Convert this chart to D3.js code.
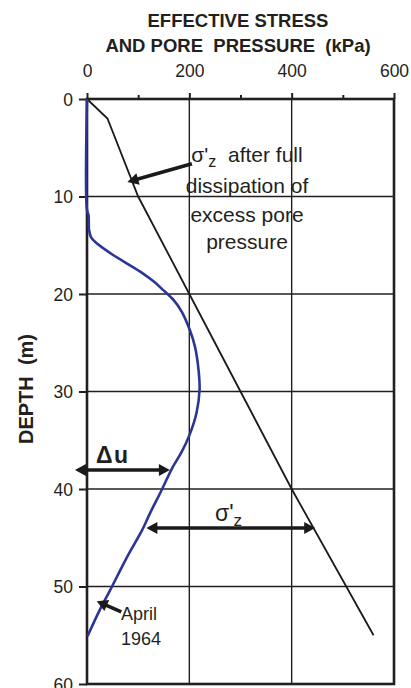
<!DOCTYPE html>
<html>
<head>
<meta charset="utf-8">
<script src="https://cdn.jsdelivr.net/npm/d3@7"></script>
<style>
  html, body { margin: 0; padding: 0; background: #fff; }
  svg { display: block; }
  text { font-family: "Liberation Sans", Arial, sans-serif; fill: #231f20; }
</style>
</head>
<body>
<svg id="chart" width="411" height="688"></svg>
<script>
// ---- data ----
const xTicks = [0, 200, 400, 600];
const xMinorTicks = [100, 300, 500];
const yTicks = [0, 10, 20, 30, 40, 50, 60];
// effective stress after full dissipation: [kPa, depth m]
const sigmaZ = [[0, 0], [40, 2], [100, 10], [200, 20], [300, 30], [400, 40], [560, 55]];
// pore pressure April 1964: [kPa, depth m]
const poreApril1964 = [
  [0, 0], [0, 11.4], [3, 11.9], [4, 13.4], [8, 14.2], [19, 14.8], [51, 16], [104, 17.7],
  [130, 18.7], [149, 19.6], [169, 20.6], [185, 21.8], [201, 23.7], [211, 25.4],
  [218, 27.8], [220, 29.8], [214, 32.2], [200, 34.5], [185, 36.2], [166, 37.9],
  [146, 40.1], [123, 42.5], [108, 44.2], [79, 46.9], [45, 50.4], [25, 52.4], [1, 55.1]
];
const titleLines = ["EFFECTIVE STRESS", "AND PORE  PRESSURE  (kPa)"];
const yTitle = "DEPTH  (m)";

(function () {
const svg = d3.select("#chart");
const x = d3.scaleLinear().domain([0, 600]).range([87, 394]);
const y = d3.scaleLinear().domain([0, 60]).range([99, 684]);

// grid
svg.append("g").selectAll("line").data([200, 400]).join("line")
  .attr("x1", d => x(d)).attr("x2", d => x(d)).attr("y1", y(0)).attr("y2", y(60))
  .attr("stroke", "#231f20").attr("stroke-width", 1.4);
svg.append("g").selectAll("line").data([10, 20, 30, 40, 50]).join("line")
  .attr("x1", x(0)).attr("x2", x(600)).attr("y1", d => y(d)).attr("y2", d => y(d))
  .attr("stroke", "#231f20").attr("stroke-width", 1.4);

// axes
const axTop = svg.append("g").attr("transform", `translate(0,${y(0)})`)
  .call(d3.axisTop(x).tickValues(xTicks).tickSize(6).tickPadding(16).tickFormat(d3.format("d")));
const axTopMinor = svg.append("g").attr("transform", `translate(0,${y(0)})`)
  .call(d3.axisTop(x).tickValues(xMinorTicks).tickSize(4).tickFormat(""));
const axLeft = svg.append("g").attr("transform", `translate(${x(0)},0)`)
  .call(d3.axisLeft(y).tickValues(yTicks).tickSize(8).tickPadding(6).tickFormat(d3.format("d")));
[axTop, axTopMinor, axLeft].forEach(g => {
  g.select(".domain").remove();
  g.selectAll(".tick line").attr("stroke", "#231f20").attr("stroke-width", 2);
  g.selectAll("text").attr("font-size", 17.5).attr("fill", "#231f20")
    .style("font-family", '"Liberation Sans", Arial, sans-serif');
});
axLeft.selectAll("text").attr("dy", "0.36em");

// frame
svg.append("rect").attr("x", x(0)).attr("y", y(0))
  .attr("width", x(600) - x(0)).attr("height", y(60) - y(0))
  .attr("fill", "none").attr("stroke", "#231f20").attr("stroke-width", 2.6);

// titles
svg.append("g").selectAll("text").data(titleLines).join("text")
  .attr("x", 238).attr("y", (d, i) => 27 + i * 24.5)
  .attr("text-anchor", "middle").attr("font-size", 18.5).attr("font-weight", "bold")
  .style("white-space", "pre").text(d => d);
svg.append("text").attr("transform", "translate(33,389) rotate(-90)")
  .attr("text-anchor", "middle").attr("font-size", 20).attr("font-weight", "bold")
  .style("white-space", "pre").text(yTitle);

// curves
const line = d3.line().x(d => x(d[0])).y(d => y(d[1]));
svg.append("path").datum(sigmaZ).attr("d", line)
  .attr("fill", "none").attr("stroke", "#1a1a1a").attr("stroke-width", 1.8);
const smooth = d3.line().x(d => x(d[0])).y(d => y(d[1])).curve(d3.curveCatmullRom.alpha(0.5));
svg.append("path").datum(poreApril1964).attr("d", smooth)
  .attr("fill", "none").attr("stroke", "#2b3595").attr("stroke-width", 2.6);

// arrows
function arrow(x1, y1, x2, y2, both) {
  const g = svg.append("g");
  const dx = x2 - x1, dy = y2 - y1, L = Math.hypot(dx, dy);
  const ux = dx / L, uy = dy / L, nx = -uy, ny = ux;
  const hl = 11, hw = 6;
  const s0 = both ? hl - 1 : 0;
  g.append("line")
    .attr("x1", x1 + ux * s0).attr("y1", y1 + uy * s0)
    .attr("x2", x2 - ux * (hl - 1)).attr("y2", y2 - uy * (hl - 1))
    .attr("stroke", "#1a1a1a").attr("stroke-width", 3.6);
  const head = (tx, ty, sx, sy) => {
    const bx = tx - sx * hl, by = ty - sy * hl;
    g.append("path")
      .attr("d", `M${tx},${ty}L${bx + nx * hw},${by + ny * hw}L${bx - nx * hw},${by - ny * hw}Z`)
      .attr("fill", "#1a1a1a");
  };
  head(x2, y2, ux, uy);
  if (both) head(x1, y1, -ux, -uy);
}
arrow(x(205), y(6.65), x(79), y(8.5), false);
arrow(x(-23.5), y(38.05), x(162), y(38.05), true);
arrow(x(116), y(44), x(446), y(44), true);
arrow(x(67), y(52.6), x(19), y(51.5), false);

// annotation texts
const t1 = svg.append("text").attr("x", 247).attr("y", 161.5).attr("text-anchor", "middle")
  .attr("font-size", 21).style("white-space", "pre");
t1.append("tspan").text("σ'");
t1.append("tspan").attr("font-size", 16).attr("dy", 5).text("z");
t1.append("tspan").attr("dy", -5).text("  after full");
svg.append("g").selectAll("text")
  .data([["dissipation of", 193], ["excess pore", 221.5], ["pressure", 248.5]]).join("text")
  .attr("x", 247).attr("y", d => d[1]).attr("text-anchor", "middle").attr("font-size", 21)
  .text(d => d[0]);

svg.append("text").attr("x", 96).attr("y", 463).attr("font-size", 23)
  .attr("font-weight", "bold").attr("letter-spacing", 1.5).text("Δu");

const t2 = svg.append("text").attr("x", 215).attr("y", 521).attr("font-size", 23);
t2.append("tspan").text("σ'");
t2.append("tspan").attr("font-size", 17).attr("dy", 5).text("z");

svg.append("g").selectAll("text").data([["April", 620], ["1964", 645]]).join("text")
  .attr("x", 121).attr("y", d => d[1]).attr("font-size", 18).text(d => d[0]);
})();
</script>
</body>
</html>
